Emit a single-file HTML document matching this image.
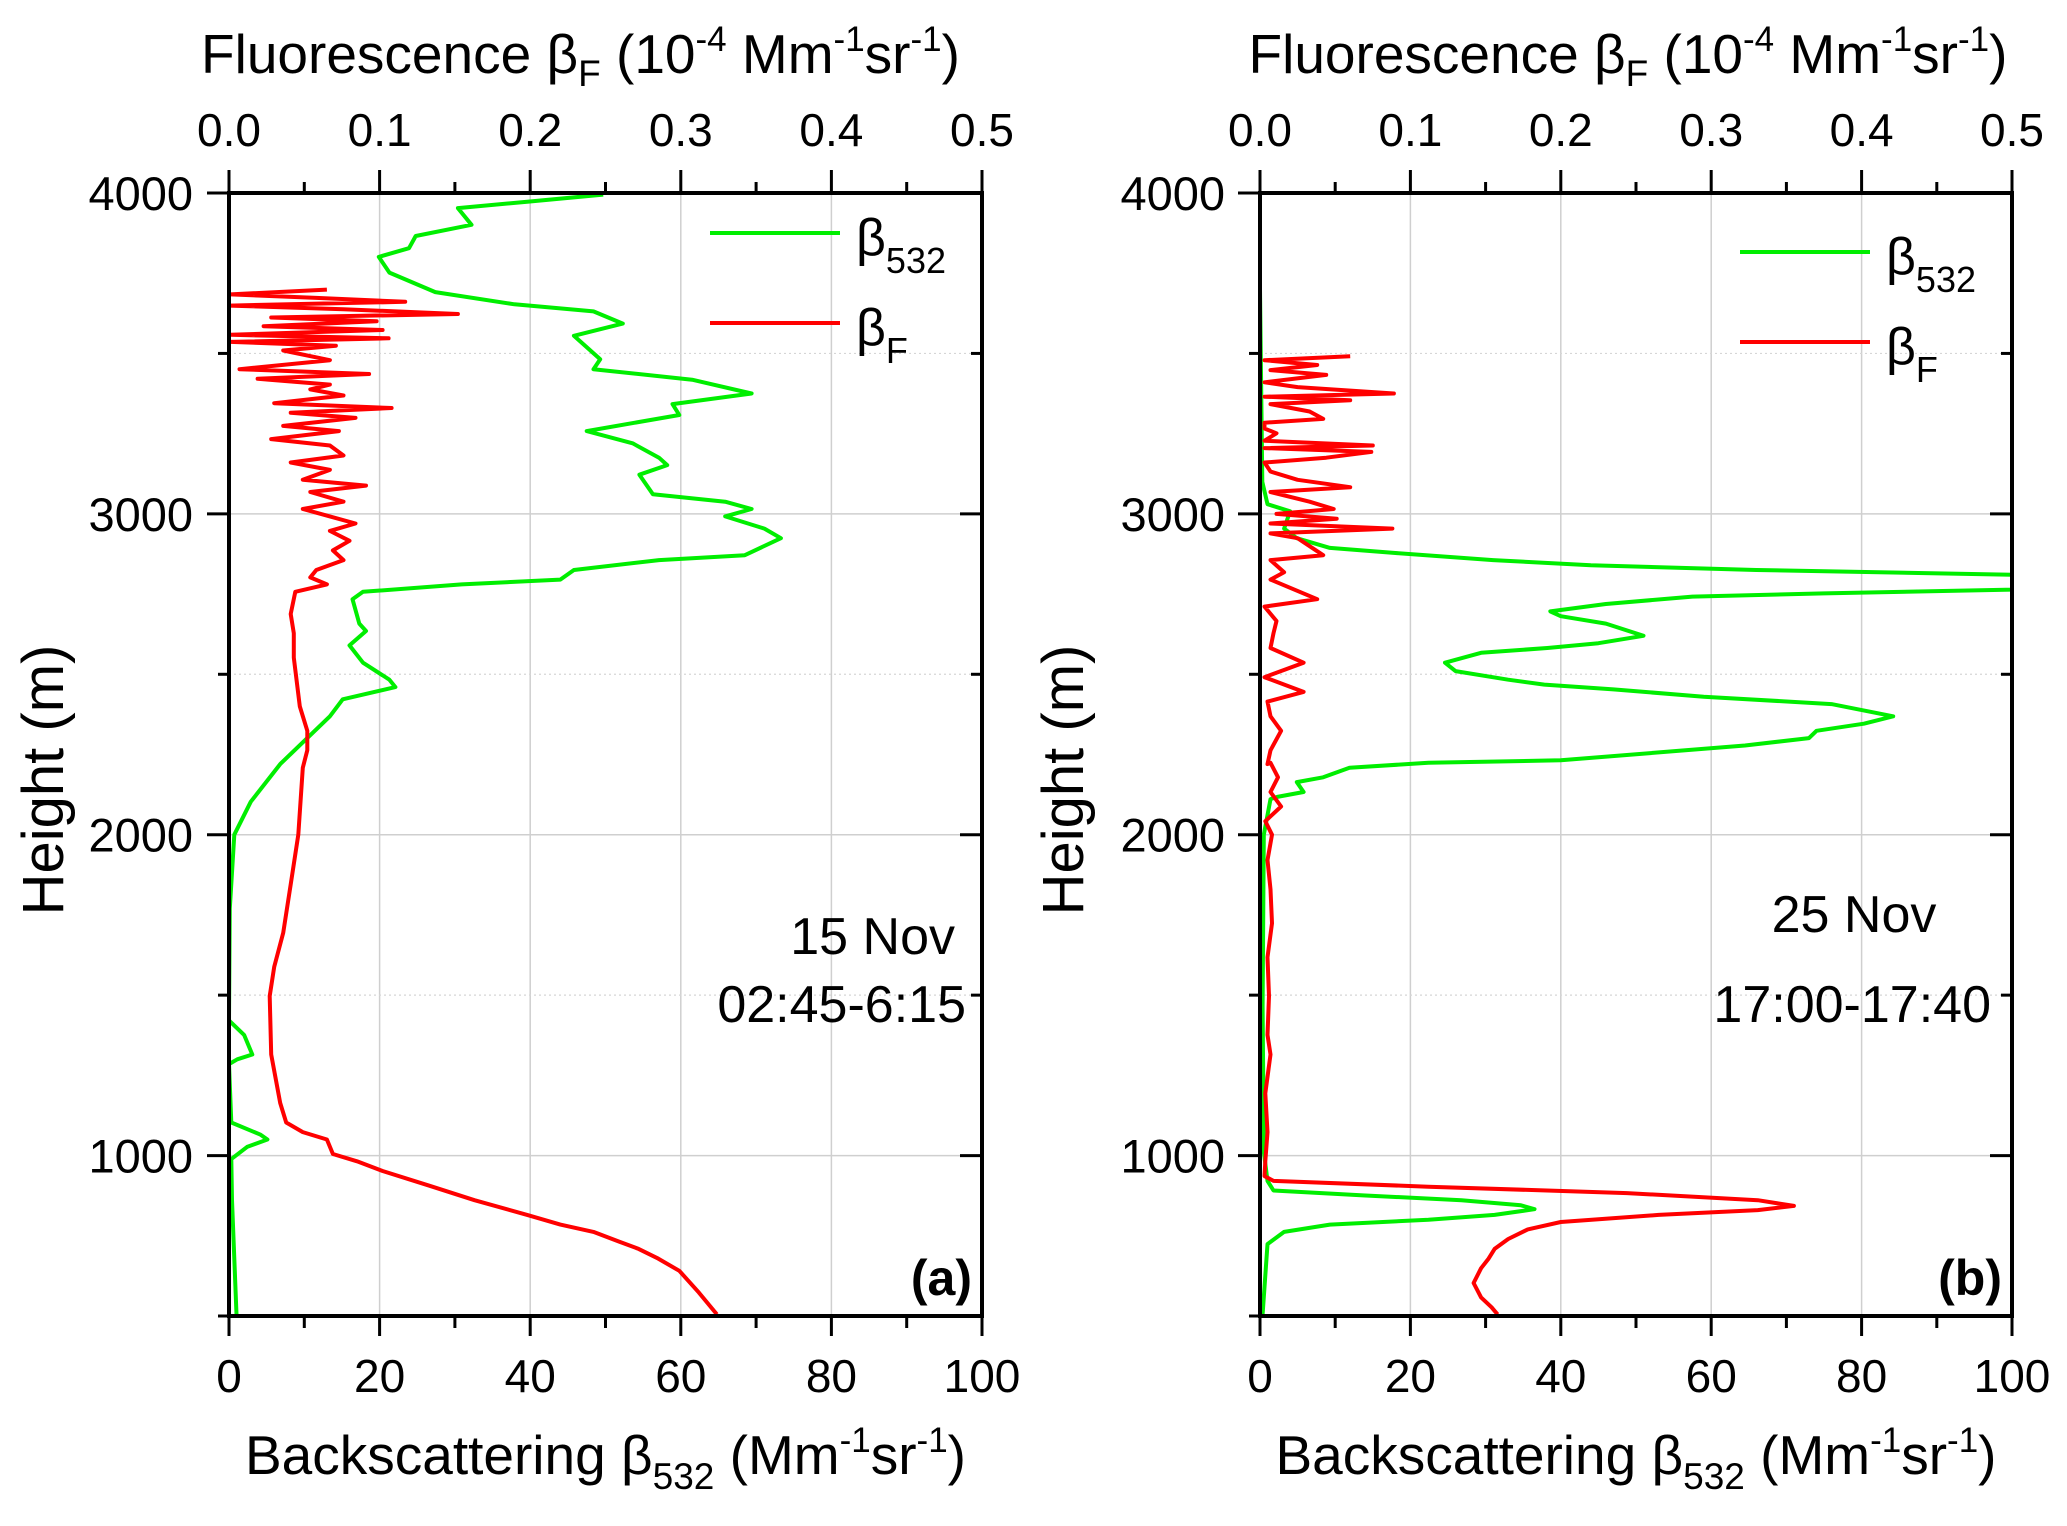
<!DOCTYPE html>
<html><head><meta charset="utf-8"><style>
html,body{margin:0;padding:0;background:#fff}
svg{display:block;font-family:"Liberation Sans",Arial,sans-serif}
</style></head><body>
<svg id="fig" width="2067" height="1526" viewBox="0 0 2067 1526" xmlns="http://www.w3.org/2000/svg"></svg>
<script>
// ---------- DATA ----------
const bottomTicks=[0,20,40,60,80,100];
const topTicks=["0.0","0.1","0.2","0.3","0.4","0.5"];
const heightTicks=[1000,2000,3000,4000];
// Panel (a) β532 (Mm-1 sr-1) vs height (m)
const aGreenH=[3995,3973,3953,3901,3866,3828,3801,3752,3691,3653,3631,3593,3555,3482,3451,3418,3375,3342,3308,3258,3220,3175,3152,3122,3061,3038,3015,2992,2954,2924,2871,2856,2825,2795,2780,2757,2734,2658,2635,2590,2536,2483,2460,2422,2369,2220,2103,2000,1770,1421,1376,1315,1300,1285,1103,1065,1050,1027,989,861,505];
const aGreenV=[49.7,39.6,30.4,32.2,24.8,23.9,19.9,21.3,27.4,37.9,48.4,52.3,45.8,49.3,48.4,61.5,69.4,58.9,59.8,47.5,53.6,57.1,58.2,54.5,56.3,65.9,69.4,65.9,71.1,73.3,68.5,57.1,45.8,44.0,30.9,17.8,16.4,17.3,18.2,16.0,17.8,21.3,22.1,15.1,13.4,6.8,2.9,0.7,0.1,0,2.0,3.1,1.1,0,0.3,4.2,5.1,2.4,0.3,0.4,1.0];
// Panel (a) βF (1e-4 Mm-1 sr-1)
const aRedH=[3699,3684,3673,3661,3649,3638,3623,3612,3600,3585,3573,3558,3547,3536,3524,3509,3479,3451,3436,3421,3403,3388,3369,3345,3330,3315,3299,3274,3258,3233,3213,3182,3160,3137,3106,3088,3068,3038,3015,2992,2970,2947,2916,2886,2856,2825,2802,2780,2757,2688,2628,2552,2476,2400,2324,2263,2209,2000,1845,1694,1588,1497,1315,1164,1103,1073,1050,1005,982,952,906,861,815,785,762,732,709,679,641,573,505];
const aRedV=[0.065,0.001,0.058,0.117,0.000,0.076,0.152,0.028,0.098,0.023,0.102,0.001,0.106,0.001,0.071,0.036,0.067,0.007,0.093,0.019,0.067,0.054,0.076,0.030,0.108,0.041,0.084,0.036,0.073,0.028,0.067,0.076,0.041,0.067,0.049,0.091,0.054,0.076,0.049,0.067,0.084,0.067,0.080,0.069,0.076,0.058,0.054,0.065,0.044,0.041,0.043,0.043,0.045,0.047,0.052,0.052,0.049,0.046,0.041,0.036,0.030,0.027,0.028,0.034,0.038,0.049,0.065,0.069,0.085,0.102,0.133,0.163,0.198,0.220,0.242,0.259,0.272,0.285,0.299,0.312,0.324];
// Panel (b) β532
const bGreenH=[3700,3100,3030,3008,2954,2924,2894,2878,2856,2840,2825,2810,2790,2764,2752,2742,2719,2696,2681,2658,2620,2597,2582,2567,2536,2510,2483,2468,2453,2430,2407,2369,2346,2324,2301,2278,2232,2224,2209,2179,2164,2133,2118,2111,2000,1467,1012,921,891,876,861,845,833,815,800,785,762,724,505];
const bGreenV=[0,0.3,1.0,4.0,3.2,4.9,9.3,18,31,44,66,100,110,100,75,57.5,46,38.6,40,46,51,45,38.2,29.4,24.6,26,33,37.8,47,59,76,84.2,80.3,74,73,64.5,40,22.4,11.9,8.4,4.9,5.8,2.3,1.4,0.5,0.35,0.5,1.0,1.8,13.7,26.8,34.7,36.5,31.2,22.4,9.3,3.2,1.0,0.35];
// Panel (b) βF
const bRedH=[3491,3479,3464,3448,3433,3410,3395,3375,3365,3354,3342,3319,3296,3284,3266,3251,3228,3213,3205,3193,3175,3160,3132,3106,3083,3068,3038,3015,3000,2985,2970,2954,2939,2924,2871,2856,2818,2795,2734,2711,2666,2628,2582,2536,2491,2445,2415,2369,2324,2263,2220,2224,2179,2133,2088,2042,2000,1921,1830,1724,1618,1497,1376,1315,1194,1073,982,936,921,903,883,861,843,830,815,793,770,740,709,679,649,603,558,527,505];
const bRedV=[0.060,0.003,0.038,0.007,0.044,0.003,0.025,0.089,0.003,0.060,0.007,0.033,0.042,0.003,0.003,0.011,0.003,0.075,0.003,0.074,0.044,0.003,0.007,0.025,0.060,0.007,0.033,0.049,0.011,0.051,0.007,0.088,0.007,0.025,0.042,0.007,0.016,0.007,0.038,0.003,0.011,0.009,0.007,0.029,0.003,0.029,0.005,0.007,0.014,0.007,0.005,0.007,0.012,0.007,0.014,0.0035,0.008,0.005,0.007,0.008,0.005,0.006,0.005,0.007,0.0035,0.005,0.0035,0.003,0.009,0.112,0.244,0.331,0.355,0.331,0.265,0.200,0.178,0.165,0.156,0.152,0.147,0.142,0.147,0.154,0.158];

// ---------- DRAW ----------
const NS="http://www.w3.org/2000/svg";
const svg=document.getElementById('fig');
const Y0=193,Y1=1316,HMIN=500,HMAX=4000;
function yScale(h){return Y1-(h-HMIN)/(HMAX-HMIN)*(Y1-Y0);}
function mk(tag,attrs,parent){const e=document.createElementNS(NS,tag);for(const k in attrs)e.setAttribute(k,attrs[k]);(parent||svg).appendChild(e);return e;}

function panel(id,X0,X1,gH,gV,rH,rV,label,note1,note2,n1x,n1y,n2x,n2y,n1anchor,legY,tickLabelRight,yTitleX,topShift){
  const g=mk('g',{});
  
  
  const xB=v=>X0+v/100*(X1-X0);
  const xT=v=>X0+v/0.5*(X1-X0);
  const cp=mk('clipPath',{id:'clip'+id},g);
  mk('rect',{x:X0,y:Y0,width:X1-X0,height:Y1-Y0},cp);
  for(const v of bottomTicks.slice(1,-1)){const l=mk('line',{x1:xB(v),x2:xB(v),y1:Y0,y2:Y1,stroke:'#cfcfcf','stroke-width':1.5},g);}
  for(const h of heightTicks.slice(0,-1)){const l=mk('line',{x1:X0,x2:X1,y1:yScale(h),y2:yScale(h),stroke:'#cfcfcf','stroke-width':1.5},g);}
  for(const h of [1500,2500,3500]){const l=mk('line',{x1:X0,x2:X1,y1:yScale(h),y2:yScale(h),stroke:'#d6d6d6','stroke-width':1.2,'stroke-dasharray':'2,3'},g);}
  let d='';gH.forEach((h,i)=>{d+=(i?'L':'M')+xB(gV[i]).toFixed(1)+','+yScale(h).toFixed(1);});
  const pg=mk('path',{d:d,fill:'none',stroke:'#00ee00','stroke-width':4,'stroke-linejoin':'round','clip-path':'url(#clip'+id+')'},g);
  
  
  d='';rH.forEach((h,i)=>{d+=(i?'L':'M')+xT(rV[i]).toFixed(1)+','+yScale(h).toFixed(1);});
  const pr=mk('path',{d:d,fill:'none',stroke:'#ff0000','stroke-width':4,'stroke-linejoin':'round','clip-path':'url(#clip'+id+')'},g);
  
  
  const fr=mk('rect',{x:X0,y:Y0,width:X1-X0,height:Y1-Y0,fill:'none',stroke:'#000','stroke-width':4},g);
  
  
  for(let v=0;v<=100;v+=10){const maj=v%20===0;mk('line',{x1:xB(v),x2:xB(v),y1:Y1,y2:Y1+(maj?20:12),stroke:'#000','stroke-width':3},g);}
  bottomTicks.forEach(v=>{const t=mk('text',{x:xB(v),y:1392,'font-size':46,'text-anchor':'middle'},g);t.textContent=v;});
  for(let i=0;i<=10;i++){const maj=i%2===0;const x=X0+i/10*(X1-X0);mk('line',{x1:x,x2:x,y1:Y0,y2:Y0-(maj?23:11),stroke:'#000','stroke-width':3},g);}
  topTicks.forEach((s,i)=>{const t=mk('text',{x:xT(i*0.1),y:146,'font-size':46,'text-anchor':'middle'},g);t.textContent=s;});
  for(let h=500;h<=4000;h+=500){const maj=h%1000===0;const y=yScale(h);
    mk('line',{x1:X0,x2:X0-(maj?22:11),y1:y,y2:y,stroke:'#000','stroke-width':3},g);
    mk('line',{x1:X1,x2:X1-(maj?22:11),y1:y,y2:y,stroke:'#000','stroke-width':3},g);}
  heightTicks.forEach(h=>{const t=mk('text',{x:tickLabelRight,y:yScale(h)+17,'font-size':47,'text-anchor':'end'},g);t.textContent=h;});
  const cx=(X0+X1)/2;
  const tt=mk('text',{x:cx+topShift,y:73,'font-size':55,'text-anchor':'middle'},g);
  tt.innerHTML='Fluorescence β<tspan font-size="37" dy="13">F</tspan><tspan dy="-13"> (10</tspan><tspan font-size="35" dy="-22">-4</tspan><tspan dy="22"> Mm</tspan><tspan font-size="35" dy="-22">-1</tspan><tspan dy="22">sr</tspan><tspan font-size="35" dy="-22">-1</tspan><tspan dy="22">)</tspan>';
  
  
  const bt=mk('text',{x:cx,y:1474,'font-size':55,'text-anchor':'middle'},g);
  bt.innerHTML='Backscattering β<tspan font-size="37" dy="15">532</tspan><tspan dy="-15"> (Mm</tspan><tspan font-size="35" dy="-22">-1</tspan><tspan dy="22">sr</tspan><tspan font-size="35" dy="-22">-1</tspan><tspan dy="22">)</tspan>';
  
  
  const yt=mk('text',{x:0,y:0,'font-size':58,'text-anchor':'middle',transform:'translate('+yTitleX+',780) rotate(-90)'},g);
  yt.textContent='Height (m)';
  
  
  const lx=X1-272;
  const lg=mk('g',{},g);
  
  
  mk('line',{x1:lx,x2:lx+130,y1:legY,y2:legY,stroke:'#00ee00','stroke-width':4},lg);
  const l1=mk('text',{x:lx+146,y:legY+22,'font-size':52},lg);l1.innerHTML='β<tspan font-size="36" dy="18">532</tspan>';
  
  
  mk('line',{x1:lx,x2:lx+130,y1:legY+90,y2:legY+90,stroke:'#ff0000','stroke-width':4},lg);
  const l2=mk('text',{x:lx+146,y:legY+112,'font-size':52},lg);l2.innerHTML='β<tspan font-size="36" dy="18">F</tspan>';
  
  
  const n1=mk('text',{x:n1x,y:n1y,'font-size':52,'text-anchor':n1anchor},g);n1.textContent=note1;
  
  
  const n2=mk('text',{x:n2x,y:n2y,'font-size':52,'text-anchor':'end'},g);n2.textContent=note2;
  
  
  const pl=mk('text',{x:X1-10,y:1295,'font-size':50,'font-weight':'bold','text-anchor':'end'},g);pl.textContent=label;
  
  
}
panel('a',229,982,aGreenH,aGreenV,aRedH,aRedV,'(a)','15 Nov','02:45-6:15',955,954,966,1022,'end',233,193,63,-25);
panel('b',1260,2012,bGreenH,bGreenV,bRedH,bRedV,'(b)','25 Nov','17:00-17:40',1854,932,1991,1022,'middle',252,1225,1083,-8);
</script>
</body></html>
